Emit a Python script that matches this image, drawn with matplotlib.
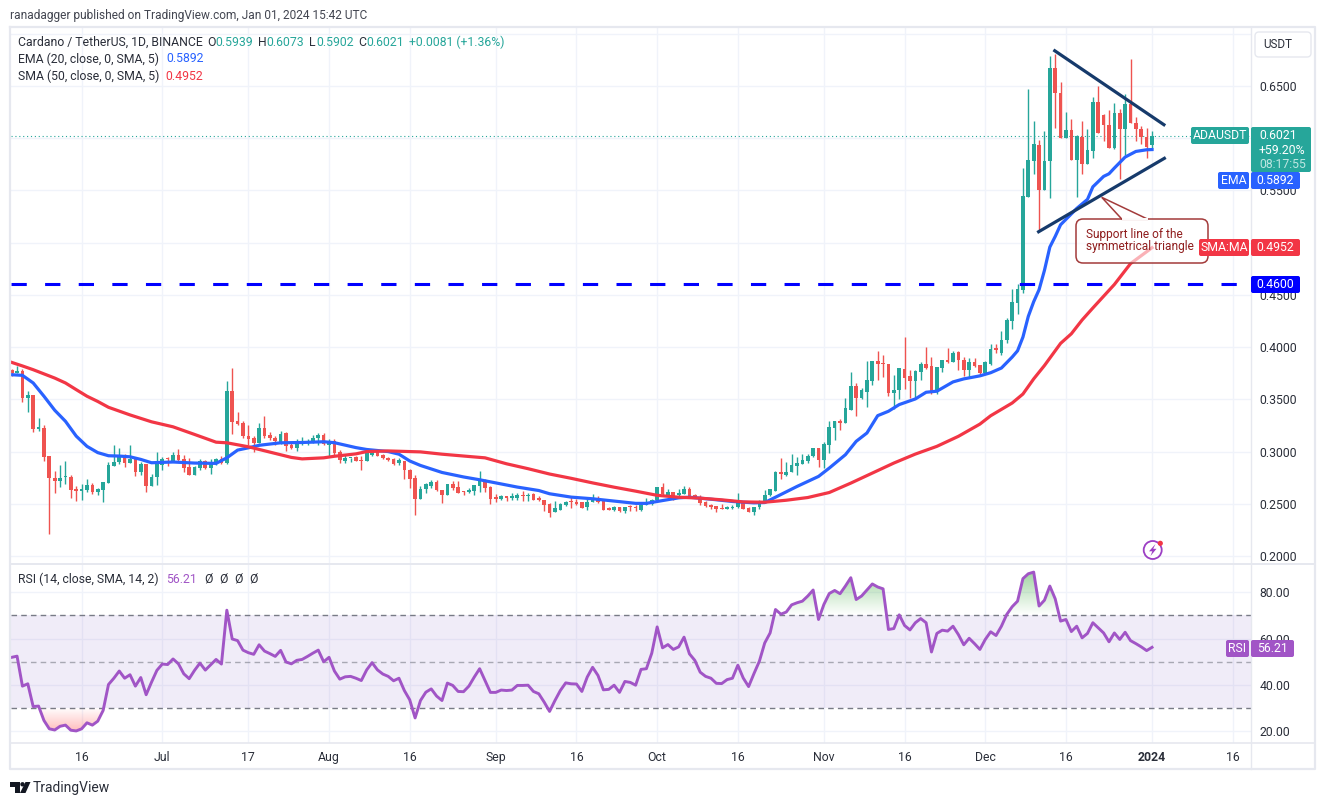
import matplotlib
matplotlib.use("Agg")
import numpy as np
import pandas as pd
from matplotlib import pyplot as plt
from matplotlib.colors import LinearSegmentedColormap
from matplotlib.patches import FancyBboxPatch, PathPatch, Polygon, Circle

plt.rcParams['font.family'] = ['Roboto', 'DejaVu Sans']

W, H = 1325, 805

dates = pd.date_range('2023-06-03', periods=213)

opens = [.378,.375,.377,.351,.354,.322,.323,.296,.275,.272,
         .2755,.276,.264,.262,.263,.268,.261,.263,.270,.286,
         .290,.297,.289,.293,.280,.288,.267,.276,.287,.293,
         .291,.297,.293,.285,.278,.284,.291,.284,.288,.293,
         .289,.358,.329,.327,.315,.313,.308,.323,.316,.313,
         .308,.318,.306,.303,.308,.308,.310,.313,.316,.306,
         .310,.300,.291,.2935,.2945,.292,.2905,.297,.3015,.297,
         .294,.2925,.289,.291,.2825,.2745,.255,.264,.2675,.2705,
         .2635,.258,.2685,.266,.262,.2615,.2625,.2675,.273,.266,
         .256,.255,.2565,.2555,.2555,.258,.257,.259,.2555,.254,
         .2495,.2425,.2445,.2485,.252,.2515,.2515,.2465,.2515,.2555,
         .253,.2455,.2445,.2465,.243,.247,.2465,.2445,.249,.2495,
         .2535,.266,.2585,.2615,.2585,.2595,.2645,.258,.2565,.2515,
         .249,.248,.2455,.245,.246,.2465,.252,.246,.242,.2465,
         .251,.258,.2625,.2805,.278,.2805,.2865,.2885,.2905,.2955,
         .3035,.292,.3065,.323,.3295,.3275,.340,.363,.3515,.3575,
         .368,.387,.385,.384,.3565,.3585,.3795,.372,.3675,.3765,
         .384,.3815,.357,.3805,.388,.386,.395,.388,.378,.386,
         .383,.3755,.384,.3985,.3945,.4065,.425,.442,.455,.544,
         .578,.594,.55,.578,.6675,.6435,.60,.608,.579,.6015,
         .575,.588,.635,.622,.613,.591,.624,.6085,.6325,.615,
         .6085,.6015,.5939]
highs = [.379,.382,.379,.358,.354,.332,.325,.296,.281,.287,
         .291,.278,.267,.269,.274,.270,.265,.271,.290,.306,
         .303,.298,.306,.293,.290,.288,.279,.300,.295,.295,
         .300,.302,.297,.294,.286,.293,.292,.293,.294,.296,
         .368,.380,.338,.329,.325,.315,.327,.334,.319,.315,
         .320,.319,.308,.312,.314,.312,.316,.318,.318,.312,
         .312,.3015,.2975,.294,.296,.296,.3015,.3025,.302,.2975,
         .295,.2935,.2935,.291,.283,.278,.2675,.270,.273,.273,
         .2635,.269,.272,.2715,.262,.2655,.268,.281,.274,.2675,
         .259,.258,.2565,.2605,.260,.262,.260,.260,.257,.254,
         .2505,.2525,.2505,.253,.2565,.255,.2515,.255,.259,.257,
         .253,.247,.248,.2465,.2465,.2485,.249,.251,.2555,.255,
         .2665,.270,.2645,.2615,.264,.267,.266,.259,.2585,.2525,
         .250,.248,.250,.2475,.2485,.2605,.2525,.2465,.247,.2535,
         .2635,.2645,.281,.294,.290,.298,.295,.298,.2975,.3035,
         .3035,.3095,.3295,.3295,.3315,.351,.3765,.366,.361,.387,
         .387,.396,.392,.384,.373,.380,.410,.378,.3785,.386,
         .400,.391,.381,.388,.399,.396,.396,.391,.3895,.390,
         .383,.3865,.403,.403,.4155,.428,.456,.460,.572,.647,
         .6165,.5985,.6065,.679,.681,.654,.6255,.618,.603,.617,
         .6085,.64,.6505,.623,.627,.634,.6285,.642,.676,.62,
         .612,.61,.6073]
lows = [.372,.375,.347,.338,.319,.320,.291,.221,.260,.266,
        .269,.256,.253,.254,.261,.259,.258,.252,.270,.286,
        .288,.285,.289,.277,.278,.261,.267,.268,.282,.286,
        .290,.290,.280,.278,.278,.282,.283,.279,.287,.288,
        .288,.317,.325,.313,.306,.300,.308,.313,.311,.306,
        .307,.301,.302,.301,.306,.306,.308,.306,.306,.296,
        .297,.2895,.2895,.290,.291,.282,.2905,.296,.296,.293,
        .291,.2875,.2875,.274,.2655,.239,.255,.2605,.2655,.262,
        .2505,.258,.263,.260,.258,.2605,.258,.261,.261,.2495,
        .252,.254,.253,.254,.254,.2525,.253,.2535,.253,.243,
        .2375,.2425,.244,.248,.246,.2485,.2455,.2445,.2515,.2505,
        .2445,.244,.2435,.242,.241,.2435,.243,.2435,.2485,.2485,
        .2525,.2575,.258,.2535,.2575,.2595,.257,.2555,.249,.2465,
        .245,.2425,.245,.245,.245,.2455,.245,.242,.2395,.245,
        .2505,.257,.262,.274,.277,.280,.278,.2885,.289,.295,
        .285,.284,.299,.311,.321,.327,.3395,.3345,.350,.3425,
        .3635,.369,.371,.3535,.341,.350,.3595,.351,.3515,.369,
        .379,.3555,.3555,.3765,.385,.3855,.3785,.372,.370,.381,
        .373,.375,.383,.394,.3925,.404,.417,.432,.452,.5435,
        .566,.512,.55,.543,.61,.60,.60,.579,.5435,.566,
        .575,.5815,.6055,.597,.591,.59,.561,.584,.615,.5975,
        .5945,.581,.5902]
closes = [.375,.377,.351,.354,.322,.323,.295,.275,.272,.275,
          .276,.263,.262,.264,.268,.261,.264,.271,.287,.290,
          .297,.289,.293,.280,.288,.267,.276,.288,.293,.2925,
          .297,.292,.284,.278,.285,.291,.284,.289,.293,.289,
          .358,.328,.326,.315,.312,.308,.323,.315,.313,.310,
          .317,.305,.303,.308,.309,.310,.313,.316,.307,.310,
          .2985,.2915,.294,.294,.291,.2905,.300,.3015,.296,.2935,
          .2915,.288,.2915,.282,.274,.255,.2645,.269,.2705,.263,
          .258,.2685,.2655,.2605,.261,.2635,.268,.274,.265,.255,
          .255,.257,.256,.257,.258,.2575,.258,.254,.2535,.2485,
          .2415,.2455,.2495,.252,.2515,.250,.246,.252,.256,.2515,
          .2445,.2445,.2465,.243,.2465,.2465,.246,.249,.2505,.2535,
          .2665,.259,.2615,.2575,.260,.2645,.257,.256,.251,.248,
          .2465,.245,.245,.247,.247,.252,.245,.242,.247,.2515,
          .2585,.2645,.2805,.279,.2805,.2875,.289,.2915,.296,.3035,
          .292,.3075,.324,.3295,.3275,.342,.363,.351,.3585,.369,
          .3865,.384,.384,.3565,.3585,.380,.370,.3675,.3775,.384,
          .380,.3565,.381,.388,.386,.3945,.3875,.378,.386,.382,
          .3755,.3855,.398,.3975,.4065,.4258,.443,.456,.545,.579,
          .595,.55,.578,.6675,.643,.60,.608,.579,.602,.575,
          .5885,.635,.6055,.6125,.591,.6245,.6085,.6325,.615,.6085,
          .601,.592,.6021]

ema_bar = [0,2,4,6,8,10,12,14,16,18,20,22,24,26,30,34,38,40,42,44,46,50,54,58,60,
           64,66,70,72,74,76,80,84,87,90,94,98,100,104,108,112,116,118,120,
           124,126,130,134,138,140,142,146,150,152,155,157,159,161,163,165,168,170,172,175,177,
           180,182,184,186,187,188,189,190,191,192,193,194,195,198,200,201,203,204,205,207,209,211,212]
ema_val = [.3736,.373,.3657,.353,.3396,.329,.3148,.305,.299,.296,.2957,.295,.2925,.2893,.29,.289,.2887,.294,.3014,.3036,.306,.3084,.3087,.3094,.3085,
           .3038,.302,.30,.2975,.291,.2867,.28,.2757,.273,.27,.266,.2627,.2596,.2564,.2548,.2526,.2504,.2504,.2522,
           .2557,.2563,.2544,.2522,.2509,.2512,.2563,.2666,.2762,.2842,.297,.3098,.3178,.3344,.3386,.345,.3504,.3568,.3578,.3667,.3696,
           .3725,.3755,.38,.3905,.3965,.4096,.4295,.4435,.455,.4735,.4958,.506,.5172,.5328,.5415,.5535,.5635,.566,.5715,.582,.5874,.589,.5892]
sma_bar = [0,2,4,8,10,12,14,16,18,22,26,30,34,38,40,44,48,52,54,58,60,
           64,66,70,76,80,85,88,92,96,100,104,108,112,116,120,
           124,128,132,136,140,144,148,152,156,160,164,168,172,176,
           180,182,186,188,190,192,195,197,199,201,205,208,212]
sma_val = [.3854,.382,.3784,.3704,.3657,.3593,.353,.348,.3424,.3351,.3285,.3237,.3164,.309,.3084,.3046,.2995,.2944,.293,.294,.2955,
           .2978,.30,.3006,.2997,.2975,.2953,.294,.2883,.2836,.2785,.2744,.27,.2659,.2621,.2581,
           .2563,.2554,.2538,.2518,.2515,.2534,.256,.2608,.2698,.2794,.289,.2976,.305,.3146,
           .3263,.3343,.3465,.3551,.3696,.3824,.4036,.4128,.426,.4375,.46,.48,.4952]

rsi = [51.9,52.4,39.5,40.5,30.7,30.9,24.7,21.1,20.6,22.2,22.7,20.5,20.2,21.1,23.7,22.7,24.4,29.0,
       40.2,42.9,46.0,42.9,44.4,39.5,43.2,35.8,41.2,46.3,49.0,48.8,51.2,49.1,44.8,42.7,46.3,49.4,46.4,48.7,51.0,49.0,
       72.2,59.8,59.1,55.0,53.9,53.2,57.3,54.6,53.5,52.3,54.9,49.9,49.1,50.6,51.0,52.3,53.7,55.0,50.0,51.9,
       46.0,42.5,43.5,43.7,42.9,41.9,46.5,49.6,46.5,44.7,43.7,41.8,42.9,37.6,33.6,25.8,33.3,36.9,38.3,35.2,33.3,
       40.8,39.8,37.2,37.1,39.5,43.4,47.0,41.9,36.8,36.8,37.8,37.6,37.8,39.8,39.8,39.9,37.2,36.2,32.6,28.6,33.3,
       37.6,40.9,40.5,40.4,37.2,43.4,47.6,44.1,37.9,38.1,39.9,36.8,41.5,41.1,39.9,46.7,47.0,53.7,65.0,
       56.0,57.4,55.3,56.4,60.6,53.4,50.6,45.5,43.7,42.9,40.7,40.6,42.3,42.9,48.5,43.0,39.3,44.9,50.2,58.1,62.4,
       72.5,70.5,71.4,74.5,75.4,76.1,78.3,80.9,68.2,74.7,79.4,80.7,79.3,82.6,86.2,76.8,78.3,80.9,83.5,82.2,81.4,
       63.9,64.3,70.2,65.6,63.7,66.8,68.6,66.8,54.2,62.2,63.6,63.2,65.3,61.7,57.3,60.1,57.8,55.3,59.6,62.9,61.3,65.3,
       70.4,73.7,76.1,85.8,87.9,88.6,74.0,76.5,82.6,77.1,67.5,68.2,63.0,65.3,60.3,62.2,66.8,64.6,62.4,58.6,62.4,59.6,
       62.7,59.1,57.8,56.4,54.8,56.21]

price_ticks = [.20,.25,.30,.35,.40,.45,.50,.55,.60,.65,.70]
price_labels = ['0.2000','0.2500','0.3000','0.3500','0.4000','0.4500','0.5000','0.5500','','0.6500','']
rsi_ticks = [20,40,60,80]
date_ticks = ['2023-06-16','2023-07-01','2023-07-17','2023-08-01','2023-08-16','2023-09-01','2023-09-16',
              '2023-10-01','2023-10-16','2023-11-01','2023-11-16','2023-12-01','2023-12-16','2024-01-01','2024-01-16']
date_labels = ['16','Jul','17','Aug','16','Sep','16','Oct','16','Nov','16','Dec','16','2024','16']

support_level = 0.46
last_close = 0.6021
upper_dates = ['2023-12-13 22:00','2024-01-03 05:00']
upper_price = [.6838,.613]
lower_dates = ['2023-12-10 22:00','2024-01-03 07:00']
lower_price = [.5105,.5808]

GRID = '#f0f3fa'
BORDER = '#e6e8ef'
TXT = '#2a2e39'
UP = '#26a69a'
DOWN = '#ef5350'
BLUE = '#2962ff'
RED = '#f23645'
PURPLE = '#a155c6'
FS = 8.8


def pane(top, bottom):
    return [11 / W, 1 - bottom / H, (1251 - 11) / W, (bottom - top) / H]


fig = plt.figure(figsize=(W / 100, H / 100), dpi=100, facecolor='white')
ax = fig.add_axes(pane(28, 563))
ax2 = fig.add_axes(pane(564, 743))

x0 = dates[0] - pd.Timedelta(hours=3)
x1 = dates[0] + pd.Timedelta(days=230.4)

for a in (ax, ax2):
    a.set_xlim(x0, x1)
    a.set_xticks(pd.to_datetime(date_ticks))
    a.grid(True, color=GRID, lw=1)
    a.set_axisbelow(True)
    a.yaxis.tick_right()
    a.tick_params(length=0, labelsize=FS, labelcolor=TXT)
    for s in a.spines.values():
        s.set_visible(False)

# candles
o = np.array(opens)
c = np.array(closes)
colors = [UP if b >= a else DOWN for a, b in zip(opens, closes)]
ax.vlines(dates, lows, highs, colors=colors, lw=1, zorder=3)
ax.bar(dates, np.maximum(np.abs(c - o), 0.0012), bottom=np.minimum(o, c), width=0.68, color=colors, zorder=3)

ax.plot(dates[ema_bar], ema_val, color=BLUE, lw=2.3, zorder=4, solid_joinstyle='round')
ax.plot(dates[sma_bar], sma_val, color=RED, lw=2.3, zorder=4, solid_joinstyle='round')

ax.axhline(support_level, color='#0000ff', lw=2.2, ls=(0, (5, 6)), zorder=5)
ax.axhline(last_close, color=UP, lw=0.8, ls=(0, (1, 2.5)), zorder=2)
ax.plot(pd.to_datetime(upper_dates), upper_price, color='#163a6b', lw=2.3, zorder=6)
ax.plot(pd.to_datetime(lower_dates), lower_price, color='#163a6b', lw=2.3, zorder=6)

ax.set_ylim(0.1933, 0.7056)
ax.set_yticks(price_ticks)
ax.set_yticklabels(price_labels)
ax.tick_params(axis='y', pad=6)
ax.tick_params(axis='x', labelbottom=False)

# RSI pane
ax2.axhspan(30, 70, color='#7e57c2', alpha=0.11, lw=0, zorder=1)
ax2.axhline(70, color='#787b86', lw=1, ls=(0, (4, 3)), zorder=2)
ax2.axhline(50, color='#787b86', lw=1, ls=(0, (4, 3)), alpha=0.6, zorder=2)
ax2.axhline(30, color='#787b86', lw=1, ls=(0, (4, 3)), zorder=2)
r = np.array(rsi)

green = LinearSegmentedColormap.from_list('g', [(0.30, 0.69, 0.31, 0.0), (0.30, 0.69, 0.31, 0.55)])
red = LinearSegmentedColormap.from_list('r', [(1.0, 0.32, 0.32, 0.38), (1.0, 0.32, 0.32, 0.0)])
ext = [matplotlib.dates.date2num(x0), matplotlib.dates.date2num(x1)]
grad = np.linspace(0, 1, 64).reshape(-1, 1)

over = ax2.fill_between(dates, 70, np.maximum(r, 70), color='none')
im = ax2.imshow(grad, extent=[ext[0], ext[1], 70, 89], origin='lower', aspect='auto', cmap=green, zorder=2)
im.set_clip_path(PathPatch(over.get_paths()[0], transform=ax2.transData))
under = ax2.fill_between(dates, np.minimum(r, 30), 30, color='none')
im = ax2.imshow(grad, extent=[ext[0], ext[1], 20, 30], origin='lower', aspect='auto', cmap=red, zorder=2)
im.set_clip_path(PathPatch(under.get_paths()[0], transform=ax2.transData))

ax2.plot(dates, r, color=PURPLE, lw=2.1, zorder=4)
ax2.set_xlim(x0, x1)
ax2.set_ylim(15.0, 92.1)
ax2.set_yticks(rsi_ticks)
ax2.set_yticklabels(['%.2f' % t for t in rsi_ticks])
ax2.tick_params(axis='y', pad=6)
ax2.set_xticklabels(date_labels)
ax2.tick_params(axis='x', pad=6)
for lab, name in zip(ax2.get_xticklabels(), date_labels):
    if name == '2024':
        lab.set_fontweight('bold')

# overlay in pixel coordinates for frame, tags and header
ov = fig.add_axes([0, 0, 1, 1], facecolor='none', zorder=10)
ov.set_xlim(0, W)
ov.set_ylim(H, 0)
ov.axis('off')

ov.plot([10, 10, 1315, 1315, 10], [27, 769, 769, 27, 27], color=BORDER, lw=1.6)
ov.plot([10, 1315], [563.5, 563.5], color=BORDER, lw=1.4)
ov.plot([10, 1315], [743, 743], color=BORDER, lw=1.2)
ov.plot([1251, 1251], [27, 769], color=BORDER, lw=1)


def tag(x, y, w, h, color, text, tc='white', fs=FS):
    ov.add_patch(FancyBboxPatch((x + 1, y + 1), w - 2, h - 2, boxstyle='round,pad=1,rounding_size=2', fc=color, ec='none', zorder=8))
    if text:
        ov.text(x + w / 2, y + h / 2, text, color=tc, fontsize=fs, ha='center', va='center', zorder=9)


# callout
ov.add_patch(FancyBboxPatch((1079, 222), 126, 38, boxstyle='round,pad=3,rounding_size=7',
                            fc=(1, 1, 1, 0.62), ec='#a33b3b', lw=1.1, zorder=7))
ov.add_patch(Polygon([[1122, 219.3], [1101.7, 197.3], [1148, 219.3]], closed=True, fc=(1, 1, 1, 0.7), ec='#a33b3b', lw=1.1, zorder=7))
ov.plot([1123, 1147], [219.5, 219.5], color='white', lw=1.4, zorder=7)
ov.text(1086.5, 234, 'Support line of the', color='#8f1d1d', fontsize=8.6, va='center', zorder=9)
ov.text(1086.5, 246, 'symmetrical triangle', color='#8f1d1d', fontsize=8.6, va='center', zorder=9)

tag(1191, 127, 58, 17, UP, 'ADAUSDT')
tag(1251, 127, 60, 45, UP, '')
ov.text(1259, 135.5, '0.6021', color='white', fontsize=FS, va='center', zorder=9)
ov.text(1259, 150, '+59.20%', color='white', fontsize=FS, va='center', zorder=9)
ov.text(1259, 164, '08:17:55', color='#bfe6e2', fontsize=FS, va='center', zorder=9)
tag(1218, 172, 31, 17, BLUE, 'EMA')
tag(1251, 172, 49, 17, BLUE, '0.5892')
tag(1199, 239, 50, 17, RED, 'SMA:MA')
tag(1251, 239, 49, 17, RED, '0.4952')
tag(1251, 276, 49, 17, '#0000ff', '0.4600')
tag(1226, 640, 23, 17, PURPLE, 'RSI')
tag(1251, 640, 43, 17, PURPLE, '56.21')

# USDT button
ov.add_patch(FancyBboxPatch((1257, 34), 52, 21, boxstyle='round,pad=2,rounding_size=4', fc='white', ec=BORDER, lw=1, zorder=7))
ov.text(1278, 44.5, 'USDT', color=TXT, fontsize=8.4, ha='center', va='center', zorder=9)

# header texts
ov.text(10, 15, 'ranadagger published on TradingView.com, Jan 01, 2024 15:42 UTC', color='#434651', fontsize=8.6, va='center')
ov.text(18, 42, 'Cardano / TetherUS, 1D, BINANCE', color=TXT, fontsize=FS, va='center')
for xp, s, col in [(207, 'O', TXT), (215, '0.5939', UP), (258, 'H', TXT), (266, '0.6073', UP),
                   (309, 'L', TXT), (316, '0.5902', UP), (358, 'C', TXT), (366, '0.6021', UP),
                   (409, '+0.0081 (+1.36%)', UP)]:
    ov.text(xp, 42, s, color=col, fontsize=FS, va='center')
ov.text(18, 59, 'EMA (20, close, 0, SMA, 5)', color=TXT, fontsize=FS, va='center')
ov.text(166, 59, '0.5892', color=BLUE, fontsize=FS, va='center')
ov.text(18, 76, 'SMA (50, close, 0, SMA, 5)', color=TXT, fontsize=FS, va='center')
ov.text(165, 76, '0.4952', color=RED, fontsize=FS, va='center')
ov.text(18, 579, 'RSI (14, close, SMA, 14, 2)', color=TXT, fontsize=FS, va='center')
ov.text(166, 579, '56.21', color=PURPLE, fontsize=FS, va='center')
for xp in (204, 219, 234, 249):
    ov.text(xp, 579, '\u00d8', color=TXT, fontsize=FS, va='center')

# bolt badge
ov.add_patch(Circle((1152.7, 550), 9, fc='white', ec='#9c3fc4', lw=1.3, zorder=8))
ov.add_patch(Polygon([[1155.5, 544], [1149, 551.3], [1152.3, 551.3], [1150.5, 556], [1156.5, 548.8], [1153.2, 548.8]],
                     closed=True, fc='#9c3fc4', ec='none', zorder=9))
ov.add_patch(Circle((1160.3, 543.3), 2.6, fc='#f23645', ec='none', zorder=9))

# logo
DARK = '#131722'
ov.add_patch(Polygon([[10, 782], [19.5, 782], [19.5, 793], [14.5, 793], [14.5, 786.5], [10, 786.5]], closed=True, fc=DARK, ec='none'))
ov.add_patch(Circle((22.5, 784.3), 2.2, fc=DARK, ec='none'))
ov.add_patch(Polygon([[25.5, 782], [30.5, 782], [25.5, 793], [20, 793]], closed=True, fc=DARK, ec='none'))
ov.text(33, 787.5, 'TradingView', color=TXT, fontsize=10, va='center')

fig.savefig('out.png', dpi=100)
